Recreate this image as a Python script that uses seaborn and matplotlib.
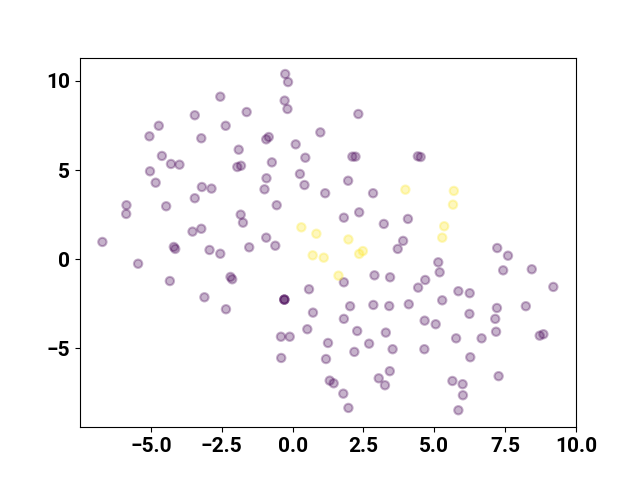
import numpy as np
import pandas as pd
import seaborn as sns
import matplotlib
matplotlib.use("Agg")
import matplotlib.pyplot as plt

plt.rcParams['font.family'] = ['Roboto', 'DejaVu Sans']
plt.rcParams['font.weight'] = 'bold'
plt.rcParams['font.size'] = 15

# class 0 (purple)
x0 = [-2.55, -1.62, -3.45, -4.72, -2.36, -5.05, -3.22, -1.90, -4.61, -4.29,
      -3.99, -1.95, -1.82, -5.03, -4.83, -3.20, -2.86, -3.45, -5.86, -5.87,
      -4.46, -1.83, -1.75, -3.53, -3.22, -6.71, -4.19, -4.14, -2.93, -2.55,
      -1.53, -5.45, -4.33, -2.19, -2.13, -3.11, -2.35,
      -0.26, -0.16, -0.28, -0.18, 2.32, 0.98, -0.84, -0.93, 0.11, 0.45,
      2.11, 2.22, 4.42, 4.52, -0.73, 0.26, -0.92, 1.96, -0.99, 0.42,
      1.15, 2.84, -0.56, 2.35, 1.81, 4.07, 3.22, -0.93, -0.61, 3.90, 3.71,
      5.14, 1.81, 2.89, 3.44, 4.68, 4.43, 0.58, -0.29, -0.29, -0.29,
      2.03, 2.85, 3.41, 4.10, 0.72, 1.81, 4.66, 5.05, 0.52, -0.41, -0.10,
      2.28, 3.29, 1.25, 2.70, 2.18, 3.53, 4.65, -0.40, 1.18, 3.43, 3.04,
      3.26, 1.31, 1.45, 1.79, 1.97,
      7.22, 7.60, 5.19, 7.43, 8.44, 9.20, 5.85, 6.25, 5.28, 8.23, 7.21,
      6.24, 7.15, 7.18, 5.77, 6.67, 8.72, 8.85, 6.27, 7.27, 5.64, 6.00,
      6.01, 5.85]
y0 = [9.11, 8.25, 8.07, 7.48, 7.48, 6.89, 6.78, 6.14, 5.79, 5.34,
      5.30, 5.17, 5.24, 4.93, 4.29, 4.05, 3.96, 3.42, 3.03, 2.54,
      2.97, 2.50, 2.05, 1.55, 1.71, 0.97, 0.69, 0.58, 0.52, 0.31,
      0.67, -0.25, -1.22, -0.99, -1.12, -2.13, -2.80,
      10.38, 9.93, 8.89, 8.42, 8.14, 7.11, 6.85, 6.72, 6.44, 5.69,
      5.75, 5.75, 5.77, 5.73, 5.43, 4.78, 4.54, 4.40, 3.92, 4.16,
      3.70, 3.70, 3.03, 2.63, 2.33, 2.26, 1.98, 1.21, 0.76, 1.03, 0.58,
      -0.17, -1.29, -0.90, -1.01, -1.16, -1.59, -1.68, -2.26, -2.26, -2.26,
      -2.63, -2.56, -2.62, -2.52, -2.99, -3.34, -3.44, -3.64, -3.92, -4.34, -4.34,
      -4.02, -4.11, -4.69, -4.73, -5.19, -5.04, -5.04, -5.53, -5.59, -6.27, -6.67,
      -7.06, -6.80, -6.95, -7.53, -8.33,
      0.63, 0.20, -0.73, -0.62, -0.56, -1.55, -1.79, -1.90, -2.30, -2.63, -2.73,
      -3.06, -3.34, -4.06, -4.43, -4.43, -4.28, -4.20, -5.49, -6.55, -6.82, -7.00,
      -7.62, -8.46]

# class 1 (yellow)
x1 = [3.98, 0.31, 0.84, 1.97, 2.48, 2.35, 0.71, 1.10, 1.62, 5.69, 5.66, 5.35, 5.28]
y1 = [3.90, 1.79, 1.43, 1.11, 0.46, 0.30, 0.22, 0.09, -0.92, 3.83, 3.06, 1.85, 1.21]

df = pd.DataFrame({
    "x": x0 + x1,
    "y": y0 + y1,
    "label": [0] * len(x0) + [1] * len(x1),
})

fig, ax = plt.subplots(figsize=(6.4, 4.8), dpi=100)
sns.scatterplot(data=df, x="x", y="y", hue="label",
                palette={0: "#440154", 1: "#fde725"},
                alpha=0.3, s=36, edgecolor="face", linewidth=1.5,
                legend=False, ax=ax)
ax.set_xlim(-7.5, 10.0)
ax.set_ylim(-9.41, 11.30)
ax.set_xlabel("")
ax.set_ylabel("")
ax.set_xticks([-5.0, -2.5, 0.0, 2.5, 5.0, 7.5, 10.0])
ax.set_yticks([-5, 0, 5, 10])

plt.savefig("out.png", dpi=100)
